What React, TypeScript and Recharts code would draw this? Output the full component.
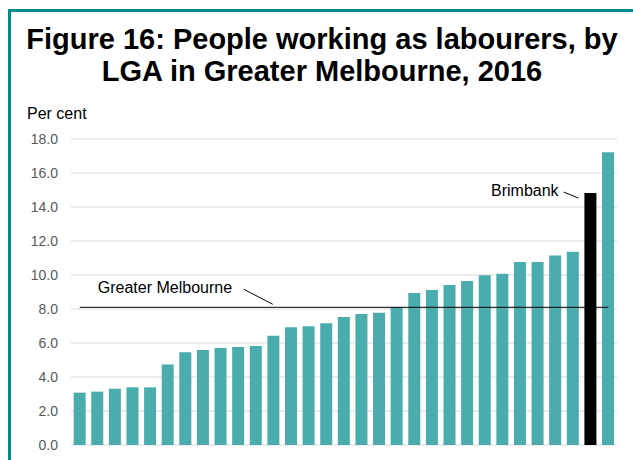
import React from "react";
import { BarChart, Bar, XAxis, YAxis, CartesianGrid, ReferenceLine, ReferenceDot, Cell } from "recharts";

const FONT = '"Liberation Sans", Arial, sans-serif';

const titleLines = ["Figure 16: People working as labourers, by", "LGA in Greater Melbourne, 2016"];
const yAxisLabel = "Per cent";

const categories = [
  "LGA 1", "LGA 2", "LGA 3", "LGA 4", "LGA 5", "LGA 6", "LGA 7", "LGA 8", "LGA 9", "LGA 10",
  "LGA 11", "LGA 12", "LGA 13", "LGA 14", "LGA 15", "LGA 16", "LGA 17", "LGA 18", "LGA 19", "LGA 20",
  "LGA 21", "LGA 22", "LGA 23", "LGA 24", "LGA 25", "LGA 26", "LGA 27", "LGA 28", "LGA 29", "Brimbank",
  "LGA 31",
];
const values = [
  3.08, 3.14, 3.31, 3.39, 3.39, 4.73, 5.45, 5.59, 5.71, 5.76,
  5.82, 6.43, 6.92, 6.98, 7.16, 7.53, 7.71, 7.78, 8.12, 8.94,
  9.12, 9.41, 9.65, 9.98, 10.08, 10.76, 10.76, 11.14, 11.37, 14.82,
  17.22,
];
const highlighted = "Brimbank";
const greaterMelbourne = 8.1;
const greaterMelbourneLabel = "Greater Melbourne";
const yTicks = [0, 2, 4, 6, 8, 10, 12, 14, 16, 18];

const data = categories.map((name, i) => ({ name, value: values[i] }));
const highlightIndex = categories.indexOf(highlighted);

const TEAL = "#4BACAD";

const GMLabel = (props: any) => {
  const vb = props.viewBox || {};
  const x = vb.x ?? 0;
  const y = vb.y ?? 0;
  return (
    <g>
      <text x={x + 18} y={y - 14} fontSize={16} fontFamily={FONT} fill="#000">
        {greaterMelbourneLabel}
      </text>
      <line x1={x + 164} y1={y - 18} x2={x + 193} y2={y - 3} stroke="#000" strokeWidth={1} />
    </g>
  );
};

const BrimbankShape = (props: any) => {
  const { cx, cy } = props;
  return (
    <g>
      <text x={cx - 32} y={cy + 3} fontSize={16} fontFamily={FONT} fill="#000" textAnchor="end">
        {highlighted}
      </text>
      <line x1={cx - 27} y1={cy - 1} x2={cx - 12} y2={cy + 5} stroke="#000" strokeWidth={1} />
    </g>
  );
};

export default function App() {
  return (
    <div style={{ position: "fixed", left: 0, top: 0, width: 633, height: 460, overflow: "hidden", background: "#fff" }}>
      <div
        style={{
          position: "absolute",
          left: 8,
          top: 9,
          width: 700,
          height: 600,
          borderLeft: "3px solid #008B8B",
          borderTop: "3px solid #008B8B",
        }}
      />
      <div
        style={{
          position: "absolute",
          left: 0,
          top: 23,
          width: 644,
          textAlign: "center",
          fontFamily: FONT,
          fontWeight: "bold",
          fontSize: 29,
          lineHeight: "32px",
          color: "#000",
          whiteSpace: "nowrap",
        }}
      >
        {titleLines.map((l, i) => (
          <div key={i}>{l}</div>
        ))}
      </div>
      <div
        style={{
          position: "absolute",
          left: 27,
          top: 106,
          fontFamily: FONT,
          fontSize: 16,
          lineHeight: "16px",
          color: "#000",
          whiteSpace: "nowrap",
        }}
      >
        {yAxisLabel}
      </div>
      <div style={{ position: "absolute", left: 0, top: 0 }}>
        <BarChart
          width={633}
          height={460}
          data={data}
          margin={{ top: 139, right: 16, bottom: 15, left: 0 }}
          barCategoryGap="15%"
        >
          <CartesianGrid vertical={false} stroke="#d9d9d9" strokeWidth={1} />
          <XAxis dataKey="name" hide />
          <YAxis
            width={71}
            domain={[0, 18]}
            ticks={yTicks}
            interval={0}
            axisLine={false}
            tickLine={false}
            tickSize={0}
            tickMargin={13}
            tickFormatter={(v: number) => v.toFixed(1)}
            tick={{ fill: "#595959", fontSize: 14, fontFamily: FONT }}
          />
          <Bar dataKey="value" fill={TEAL} isAnimationActive={false}>
            {data.map((d, i) => (
              <Cell key={i} fill={i === highlightIndex ? "#000000" : TEAL} />
            ))}
          </Bar>
          <ReferenceLine
            segment={[
              { x: categories[0], y: greaterMelbourne },
              { x: categories[categories.length - 1], y: greaterMelbourne },
            ]}
            stroke="#000"
            strokeWidth={1}
            label={<GMLabel />}
          />
          <ReferenceDot
            x={highlighted}
            y={values[highlightIndex]}
            r={0}
            shape={<BrimbankShape />}
          />
        </BarChart>
      </div>
    </div>
  );
}
